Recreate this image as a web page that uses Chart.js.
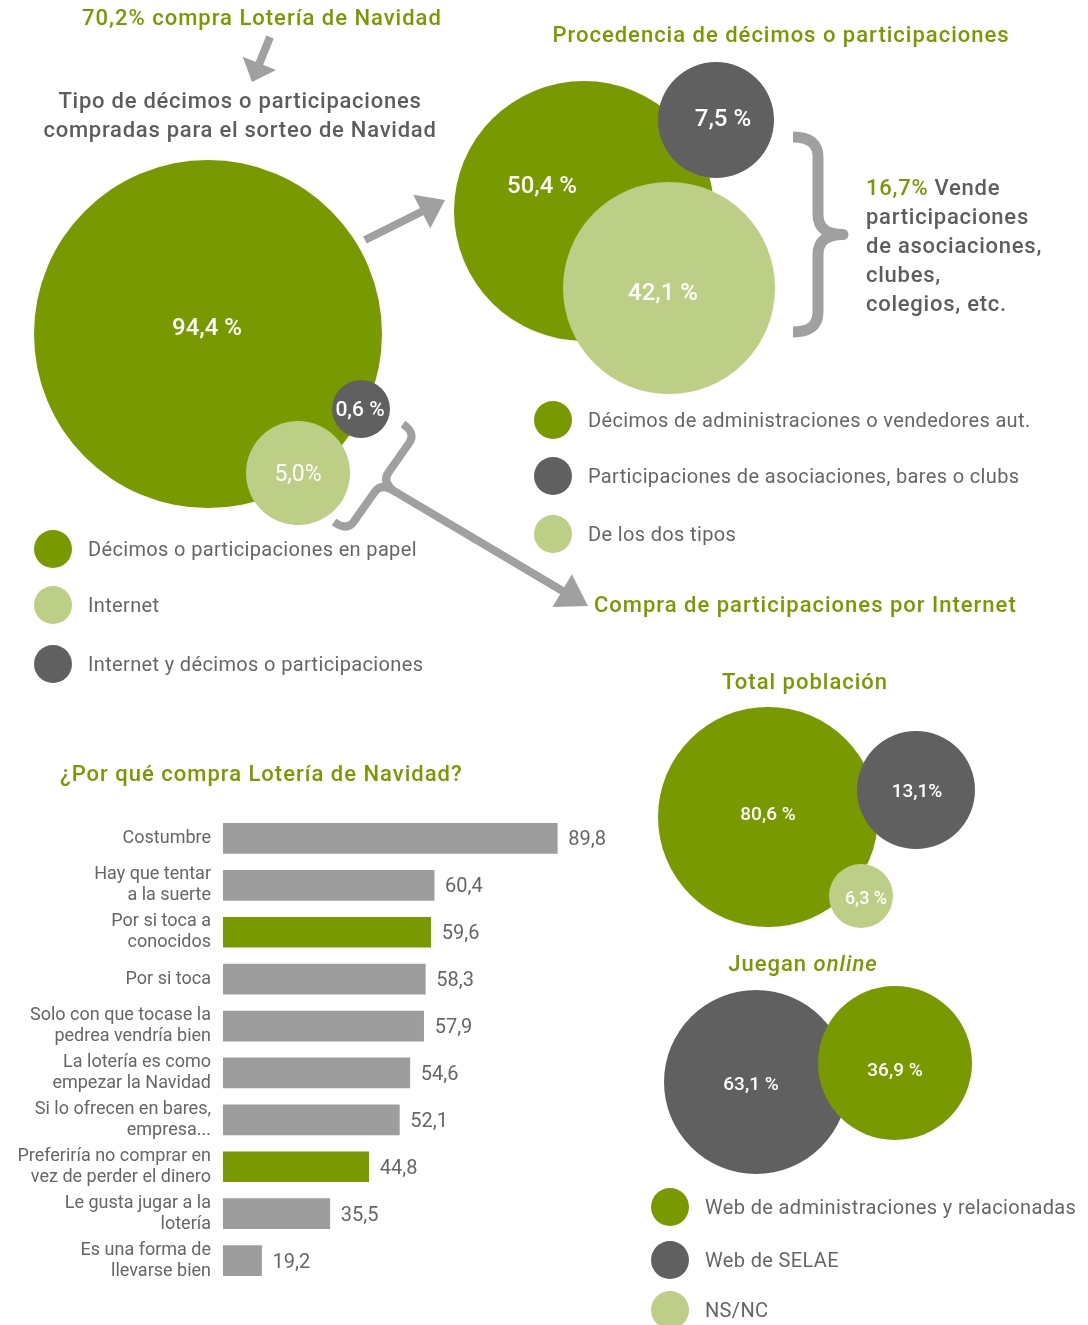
<!DOCTYPE html>
<html lang="es">
<head>
<meta charset="utf-8">
<title>Lotería de Navidad</title>
<script src="https://cdn.jsdelivr.net/npm/chart.js@4.4.1/dist/chart.umd.min.js"></script>
<style>
    html, body { margin: 0; padding: 0; background: #fff; }
    body {
        width: 1088px; height: 1325px; position: relative; overflow: hidden;
        font-family: Roboto, "Noto Sans", sans-serif; color: #5d5d5d;
    }
    canvas { position: absolute; }
    .t { position: absolute; white-space: nowrap; }
    .c { text-align: center; width: 600px; }
    .head { font-size: 22px; font-weight: 500; line-height: 26px; color: #789a00; letter-spacing: 1px; }
    .sub { font-size: 22px; font-weight: 500; line-height: 29px; color: #5d5d5d; letter-spacing: 0.75px; }
    .green { color: #789a00; }
    .row { position: absolute; display: flex; align-items: center; white-space: nowrap; font-size: 20px; color: #666; letter-spacing: 0.35px; }
    .dot { width: 38px; height: 38px; border-radius: 50%; margin-right: 16px; flex: none; }
</style>
</head>
<body>
<canvas id="bubbles" width="1088" height="1325" style="left:0;top:0"></canvas>
<canvas id="bars" width="625" height="469" style="left:0;top:815px"></canvas>

<div class="t c head" style="left:-38px;top:5px">70,2% compra Lotería de Navidad</div>
<div class="t c sub" style="left:-60px;top:86px">Tipo de décimos o participaciones<br>compradas para el sorteo de Navidad</div>
<div class="t c head" style="left:481px;top:22px">Procedencia de décimos o participaciones</div>
<div class="t sub" style="left:866px;top:173px"><span class="green">16,7%</span> Vende<br>participaciones<br>de asociaciones,<br>clubes,<br>colegios, etc.</div>
<div class="t head" style="left:594px;top:592px">Compra de participaciones por Internet</div>
<div class="t c head" style="left:505px;top:669px">Total población</div>
<div class="t head" style="left:60px;top:761px">¿Por qué compra Lotería de Navidad?</div>
<div class="t c head" style="left:503px;top:951px">Juegan <i>online</i></div>

<script>
// Colours used across the infographic
const GREEN = '#789a00';
const DARK = '#606060';
const LIGHT = '#bdce86';
const BAR_GREY = '#9d9d9d';
const LINE_GREY = '#a0a0a0';
const FONT = 'Roboto, "Noto Sans", sans-serif';

// Tipo de décimos o participaciones compradas
const tipoLabels = ['Décimos o participaciones en papel', 'Internet', 'Internet y décimos o participaciones'];
const tipoValues = [94.4, 5.0, 0.6];
const tipoColors = [GREEN, LIGHT, DARK];

// Procedencia de décimos o participaciones
const procedenciaLabels = ['Décimos de administraciones o vendedores aut.', 'Participaciones de asociaciones, bares o clubs', 'De los dos tipos'];
const procedenciaValues = [50.4, 7.5, 42.1];
const procedenciaColors = [GREEN, DARK, LIGHT];

// Compra por Internet
const onlineLabels = ['Web de administraciones y relacionadas', 'Web de SELAE', 'NS/NC'];
const totalPoblacionValues = [80.6, 13.1, 6.3];
const jueganOnlineValues = [36.9, 63.1];
const onlineColors = [GREEN, DARK, LIGHT];

// ¿Por qué compra Lotería de Navidad?
const motivoLabels = [
    'Costumbre',
    ['Hay que tentar', 'a la suerte'],
    ['Por si toca a', 'conocidos'],
    'Por si toca',
    ['Solo con que tocase la', 'pedrea vendría bien'],
    ['La lotería es como', 'empezar la Navidad'],
    ['Si lo ofrecen en bares,', 'empresa...'],
    ['Preferiría no comprar en', 'vez de perder el dinero'],
    ['Le gusta jugar a la', 'lotería'],
    ['Es una forma de', 'llevarse bien']
];
const motivoValues = [89.8, 60.4, 59.6, 58.3, 57.9, 54.6, 52.1, 44.8, 35.5, 19.2];
const motivoHighlight = [2, 7];

// Where each circle sits on the page (pixels), in drawing order
const bubbleLayout = [
    { set: 'tipo', i: 0, x: 208, y: 334, r: 174, dx: -1, dy: -5, fs: 24, w: 500, sep: ' ' },
    { set: 'tipo', i: 1, x: 298, y: 473, r: 52, dx: 0, dy: 2, fs: 23, w: 400, sep: '' },
    { set: 'tipo', i: 2, x: 361, y: 409, r: 29, dx: -1, dy: 2, fs: 21, w: 500, sep: ' ' },
    { set: 'proc', i: 0, x: 584, y: 211, r: 130, dx: -42, dy: -24, fs: 24, w: 500, sep: ' ' },
    { set: 'proc', i: 1, x: 716, y: 120, r: 58, dx: 7, dy: 0, fs: 24, w: 500, sep: ' ' },
    { set: 'proc', i: 2, x: 669, y: 288, r: 106, dx: -6, dy: 6, fs: 24, w: 500, sep: ' ' },
    { set: 'total', i: 0, x: 768, y: 817, r: 110, dx: 0, dy: -2, fs: 19, w: 500, sep: ' ' },
    { set: 'total', i: 1, x: 916, y: 790, r: 59, dx: 1, dy: 2, fs: 19, w: 500, sep: '' },
    { set: 'total', i: 2, x: 861, y: 896, r: 32, dx: 5, dy: 3, fs: 18, w: 500, sep: ' ' },
    { set: 'online', i: 1, x: 756, y: 1082, r: 92, dx: -5, dy: 3, fs: 19, w: 500, sep: ' ' },
    { set: 'online', i: 0, x: 895, y: 1063, r: 77, dx: 0, dy: 8, fs: 19, w: 500, sep: ' ' }
];

const valueSets = {
    tipo: tipoValues,
    proc: procedenciaValues,
    total: totalPoblacionValues,
    online: jueganOnlineValues
};
const colorSets = {
    tipo: tipoColors,
    proc: procedenciaColors,
    total: onlineColors,
    online: onlineColors
};

// Legends: page position of the first dot and the row offsets
const legends = [
    { labels: tipoLabels, colors: tipoColors, x: 53, y: 549, steps: [0, 56, 115] },
    { labels: procedenciaLabels, colors: procedenciaColors, x: 553, y: 420, steps: [0, 56, 114] },
    { labels: onlineLabels, colors: onlineColors, x: 670, y: 1207, steps: [0, 53, 103] }
];

function fmt(v) {
    return v.toFixed(1).replace('.', ',');
}

// Build the HTML legends
legends.forEach(lg => {
    lg.labels.forEach((label, i) => {
        const row = document.createElement('div');
        row.className = 'row';
        row.style.left = (lg.x - 19) + 'px';
        row.style.top = (lg.y + lg.steps[i] - 19) + 'px';
        row.style.height = '38px';
        const dot = document.createElement('span');
        dot.className = 'dot';
        dot.style.background = lg.colors[i];
        row.appendChild(dot);
        row.appendChild(document.createTextNode(label));
        document.body.appendChild(row);
    });
});

// Arrow with a triangular head
function drawArrow(ctx, from, to, shaftW, headL, headW) {
    const ang = Math.atan2(to.y - from.y, to.x - from.x);
    const bx = to.x - Math.cos(ang) * headL;
    const by = to.y - Math.sin(ang) * headL;
    ctx.strokeStyle = LINE_GREY;
    ctx.fillStyle = LINE_GREY;
    ctx.lineWidth = shaftW;
    ctx.lineCap = 'butt';
    ctx.beginPath();
    ctx.moveTo(from.x, from.y);
    ctx.lineTo(bx + Math.cos(ang) * 2, by + Math.sin(ang) * 2);
    ctx.stroke();
    ctx.beginPath();
    ctx.moveTo(to.x, to.y);
    ctx.lineTo(bx + Math.sin(ang) * headW / 2, by - Math.cos(ang) * headW / 2);
    ctx.lineTo(bx - Math.sin(ang) * headW / 2, by + Math.cos(ang) * headW / 2);
    ctx.closePath();
    ctx.fill();
}

// Curly brace between p1 and p2, tip pushed out by d; returns the tip point
function drawBrace(ctx, p1, p2, d, q, lw) {
    const L = Math.hypot(p2.x - p1.x, p2.y - p1.y);
    const ux = (p2.x - p1.x) / L, uy = (p2.y - p1.y) / L;
    const nx = uy, ny = -ux;
    const P = (s, t) => [p1.x + ux * s + nx * t, p1.y + uy * s + ny * t];
    ctx.strokeStyle = LINE_GREY;
    ctx.lineWidth = lw;
    ctx.lineCap = 'butt';
    ctx.lineJoin = 'round';
    ctx.beginPath();
    ctx.moveTo(...P(0, 0));
    ctx.quadraticCurveTo(...P(0, d / 2), ...P(q, d / 2));
    ctx.lineTo(...P(L / 2 - q, d / 2));
    ctx.quadraticCurveTo(...P(L / 2, d / 2), ...P(L / 2, d));
    ctx.quadraticCurveTo(...P(L / 2, d / 2), ...P(L / 2 + q, d / 2));
    ctx.lineTo(...P(L - q, d / 2));
    ctx.quadraticCurveTo(...P(L, d / 2), ...P(L, 0));
    ctx.stroke();
    const tip = P(L / 2, d);
    return { x: tip[0], y: tip[1] };
}

// Percent labels inside circles plus arrows and braces
const bubbleDecor = {
    id: 'bubbleDecor',
    afterDatasetsDraw(chart) {
        const ctx = chart.ctx;
        ctx.save();
        const meta = chart.getDatasetMeta(0);
        meta.data.forEach((el, k) => {
            const b = bubbleLayout[k];
            const v = valueSets[b.set][b.i];
            ctx.font = `${b.w} ${b.fs}px ${FONT}`;
            ctx.fillStyle = '#fff';
            ctx.textAlign = 'center';
            ctx.textBaseline = 'middle';
            ctx.fillText(fmt(v) + b.sep + '%', el.x + b.dx, el.y + b.dy);
        });

        drawArrow(ctx, { x: 270, y: 37 }, { x: 252, y: 82 }, 8, 20, 36);
        drawArrow(ctx, { x: 365, y: 240 }, { x: 445, y: 200 }, 8, 26, 38);
        drawBrace(ctx, { x: 793, y: 137 }, { x: 793, y: 332 }, 50, 20, 11);
        const tip = drawBrace(ctx, { x: 403, y: 424 }, { x: 334, y: 522 }, 32, 12, 8);
        drawArrow(ctx, tip, { x: 588, y: 606 }, 8, 30, 38);
        ctx.restore();
    }
};

new Chart(document.getElementById('bubbles'), {
    type: 'bubble',
    data: {
        datasets: [{
            data: bubbleLayout.map(b => ({ x: b.x, y: b.y, r: b.r })),
            backgroundColor: bubbleLayout.map(b => colorSets[b.set][b.i]),
            borderWidth: 0,
            hoverBorderWidth: 0,
            clip: false
        }]
    },
    options: {
        responsive: false,
        animation: false,
        layout: { padding: 0, autoPadding: false },
        scales: {
            x: { type: 'linear', min: 0, max: 1088, display: false },
            y: { type: 'linear', min: 0, max: 1325, reverse: true, display: false }
        },
        plugins: {
            legend: { display: false },
            tooltip: { enabled: false }
        }
    },
    plugins: [bubbleDecor]
});

// Value labels to the right of each bar
const barValues = {
    id: 'barValues',
    afterDatasetsDraw(chart) {
        const ctx = chart.ctx;
        ctx.save();
        ctx.font = `400 20px ${FONT}`;
        ctx.fillStyle = '#666';
        ctx.textAlign = 'left';
        ctx.textBaseline = 'middle';
        chart.getDatasetMeta(0).data.forEach((bar, i) => {
            ctx.fillText(fmt(motivoValues[i]), bar.x + 11, bar.y + 2);
        });
        ctx.restore();
    }
};

new Chart(document.getElementById('bars'), {
    type: 'bar',
    data: {
        labels: motivoLabels,
        datasets: [{
            data: motivoValues,
            backgroundColor: motivoValues.map((v, i) => motivoHighlight.includes(i) ? GREEN : BAR_GREY),
            barThickness: 30
        }]
    },
    options: {
        indexAxis: 'y',
        responsive: false,
        animation: false,
        layout: { padding: { left: 0, right: 25, top: 0, bottom: 0 } },
        scales: {
            x: { min: 10, max: 100, display: false },
            y: {
                grid: { display: false, drawTicks: false },
                border: { display: false },
                ticks: {
                    color: '#666',
                    padding: 12,
                    autoSkip: false,
                    font: { family: FONT, size: 18, lineHeight: 1.17 }
                },
                afterFit(scale) {
                    scale.width = 223;
                    scale.paddingTop = 0;
                    scale.paddingBottom = 0;
                }
            }
        },
        plugins: {
            legend: { display: false },
            tooltip: { enabled: false }
        }
    },
    plugins: [barValues]
});
</script>
</body>
</html>
